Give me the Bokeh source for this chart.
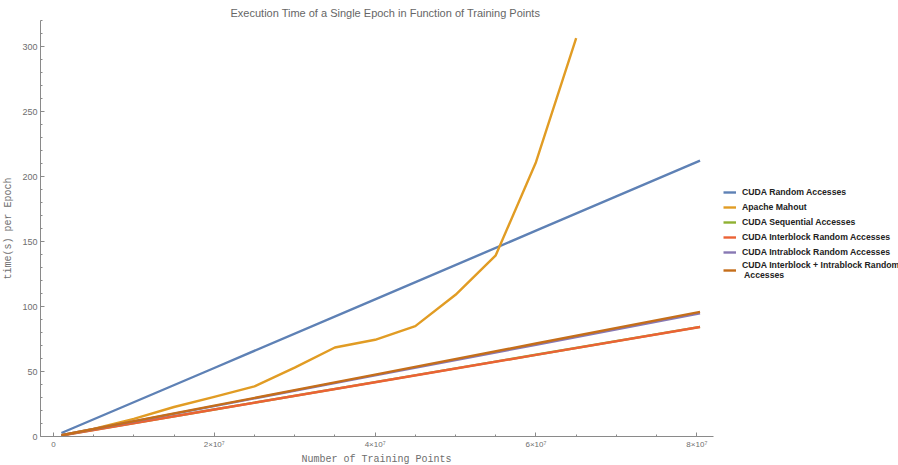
import math
from bokeh.plotting import figure
from bokeh.models import (Range1d, FixedTicker, Legend, LegendItem, Title)
from bokeh.embed import file_html
from bokeh.resources import INLINE

# ---- data ----
cuda_x = [1e6, 2e7, 4e7, 6e7, 8.04e7]
cuda_random = [2.7, 52.7, 105.5, 158.3, 212.2]
cuda_sequential = [0.9, 20.8, 41.8, 62.9, 84.3]
cuda_interblock = [0.8, 20.75, 41.75, 62.75, 84.2]
cuda_intrablock = [1.0, 23.4, 47.0, 70.6, 94.8]
cuda_inter_intra = [1.0, 23.7, 47.6, 71.5, 95.9]

mahout_x = [1e6, 5e6, 10e6, 15e6, 20e6, 25e6, 30e6, 35e6, 40e6, 45e6,
            50e6, 55e6, 60e6, 65e6]
mahout = [1.0, 5.8, 13.5, 22.7, 30.5, 38.5, 53.0, 68.5, 74.4, 84.9,
          109.0, 139.4, 211.0, 306.5]

series_names = ["CUDA Random Accesses", "Apache Mahout", "CUDA Sequential Accesses",
                "CUDA Interblock Random Accesses", "CUDA Intrablock Random Accesses",
                "CUDA Interblock + Intrablock Random\n Accesses"]
colors = ["#5E81B5", "#E19C24", "#8FB032", "#EB6235", "#8778B3", "#C56E1A"]

x_ticks = [0, 2e7, 4e7, 6e7, 8e7]
x_tick_labels = {0: "0", 2e7: "2\u00d710\u2077", 4e7: "4\u00d710\u2077",
                 6e7: "6\u00d710\u2077", 8e7: "8\u00d710\u2077"}
y_ticks = [0, 50, 100, 150, 200, 250, 300]

title_text = "Execution Time of a Single Epoch in Function of Training Points"
x_label = "Number of Training Points"
y_label = "time(s) per Epoch"

# visible axis extents; the frame also extends to the right to hold the legend
x_axis_min, x_axis_max = -1.6e6, 8.21e7
y_axis_min, y_axis_max = 0, 320
px_per_x = 674 / (x_axis_max - x_axis_min)
frame_w = 859

p = figure(width=898, height=465, output_backend="svg", toolbar_location=None,
           x_range=Range1d(x_axis_min, x_axis_min + frame_w / px_per_x),
           y_range=Range1d(y_axis_min, y_axis_max),
           min_border_left=39, min_border_right=0, min_border_top=20,
           min_border_bottom=29)
p.outline_line_color = None
p.grid.visible = False
p.background_fill_color = "white"
p.border_fill_color = "white"

p.add_layout(Title(text=title_text, align="left", offset=190, standoff=4,
                   text_font="Liberation Sans", text_font_size="11px",
                   text_font_style="normal", text_color="#666666"), "above")

series = [(cuda_x, cuda_random), (mahout_x, mahout), (cuda_x, cuda_sequential),
          (cuda_x, cuda_interblock), (cuda_x, cuda_intrablock), (cuda_x, cuda_inter_intra)]
renderers = []
for (xs, ys), c in zip(series, colors):
    r = p.line(xs, ys, line_color=c, line_width=2.4, line_join="round")
    renderers.append(r)

axis_color = "#8a8a8a"
label_color = "#6e6e6e"

xa = p.xaxis[0]
xa.bounds = (x_axis_min, x_axis_max)
xa.ticker = FixedTicker(ticks=x_ticks,
                        minor_ticks=[i * 5e6 for i in range(0, 17)])
xa.major_label_overrides = {k: v for k, v in x_tick_labels.items()}
xa.major_label_text_font = "Liberation Sans"
xa.major_label_text_font_size = "8px"
xa.major_label_text_color = label_color
xa.major_label_standoff = 3
xa.axis_line_color = axis_color
xa.major_tick_line_color = axis_color
xa.minor_tick_line_color = axis_color
xa.major_tick_in = 4
xa.major_tick_out = 0
xa.minor_tick_in = 2
xa.minor_tick_out = 0

p.add_layout(Title(text=x_label, align="left", offset=261, standoff=0,
                   text_font="Liberation Mono", text_font_size="10px",
                   text_font_style="normal", text_color=label_color), "below")

ya = p.yaxis[0]
ya.bounds = (y_axis_min, y_axis_max)
ya.ticker = FixedTicker(ticks=y_ticks, minor_ticks=list(range(0, 321, 10)))
ya.major_label_text_font = "Liberation Sans"
ya.major_label_text_font_size = "9px"
ya.major_label_text_color = label_color
ya.major_label_standoff = 3
ya.axis_line_color = axis_color
ya.major_tick_line_color = axis_color
ya.minor_tick_line_color = axis_color
ya.major_tick_in = 4
ya.major_tick_out = 0
ya.minor_tick_in = 2
ya.minor_tick_out = 0
ya.axis_label = y_label
ya.axis_label_text_font = "Liberation Mono"
ya.axis_label_text_font_size = "10px"
ya.axis_label_text_font_style = "normal"
ya.axis_label_text_color = label_color
ya.axis_label_standoff = 5

legend = Legend(items=[LegendItem(label=n, renderers=[r]) for n, r in zip(series_names, renderers)],
                location=(683, 156), padding=0, margin=0, spacing=1,
                glyph_width=13, glyph_height=14, label_height=14, label_standoff=6,
                label_text_font="Liberation Sans", label_text_font_size="8.7px",
                label_text_font_style="bold", label_text_color="#222222",
                background_fill_alpha=0, border_line_color=None)
p.add_layout(legend, "center")

open("out.html", "w").write(file_html(p, INLINE))
